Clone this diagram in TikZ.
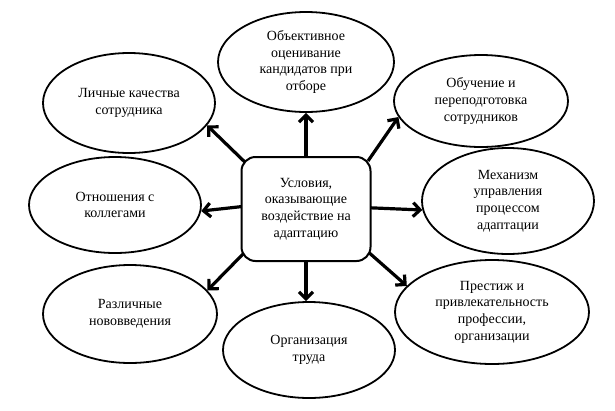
\documentclass[tikz,border=0pt]{standalone}
\usepackage{fontspec}
\setmainfont{Liberation Serif}
\usetikzlibrary{arrows.meta,shapes.geometric,backgrounds}
\begin{document}
\begin{tikzpicture}[x=1pt,y=-1pt,
  font=\fontsize{14}{16.7}\selectfont,
  oval/.style={draw, line width=1.8pt, ellipse, inner sep=0pt, align=center},
  hub/.style={draw, line width=2pt, rounded corners=14pt, fill=white, align=center,
    minimum width=129pt, minimum height=104pt, inner sep=0pt},
  arr/.style={line width=3.2pt, -{Straight Barb[length=7pt,width=14pt]}, shorten <=-6pt}
]
\useasboundingbox (0,0) rectangle (615,410);
\node[hub] (c) at (306,209) {Условия,\\оказывающие\\воздействие на\\адаптацию};
\node[oval, minimum width=176pt, minimum height=100pt] (obj) at (306,62) {Объективное\\оценивание\\кандидатов при\\отборе};
\node[oval, minimum width=172pt, minimum height=100pt] (lich) at (129,103) {Личные качества\\сотрудника};
\node[oval, minimum width=172pt, minimum height=96pt] (otn) at (115,205) {Отношения с\\коллегами};
\node[oval, minimum width=174pt, minimum height=98pt] (razl) at (130,314) {Различные\\нововведения};
\node[oval, minimum width=172pt, minimum height=96pt] (org) at (309,350) {Организация\\труда};
\node[oval, minimum width=174pt, minimum height=92pt] (obuch) at (481,101) {Обучение и\\переподготовка\\сотрудников};
\node[oval, minimum width=172pt, minimum height=106pt] (mech) at (508,201) {Механизм\\управления\\процессом\\адаптации};
\node[oval, minimum width=194pt, minimum height=104pt] (prest) at (492,312) {Престиж и\\привлекательность\\профессии,\\организации};
\begin{scope}[on background layer]
\draw[arr] (c.142) -- (lich.-16.5);
\draw[arr] (c.north) -- (c.north |- obj.south);
\draw[arr] (c.39.4) -- (obuch.191.7);
\draw[arr] (c.1.8) -- (mech.186);
\draw[arr] (c.-35.2) -- (prest.163.3);
\draw[arr] (c.south) -- (c.south |- org.north);
\draw[arr] (c.216.9) -- (razl.17.7);
\draw[arr] (c.178.2) -- (otn.-4.65);
\end{scope}
\end{tikzpicture}
\end{document}
